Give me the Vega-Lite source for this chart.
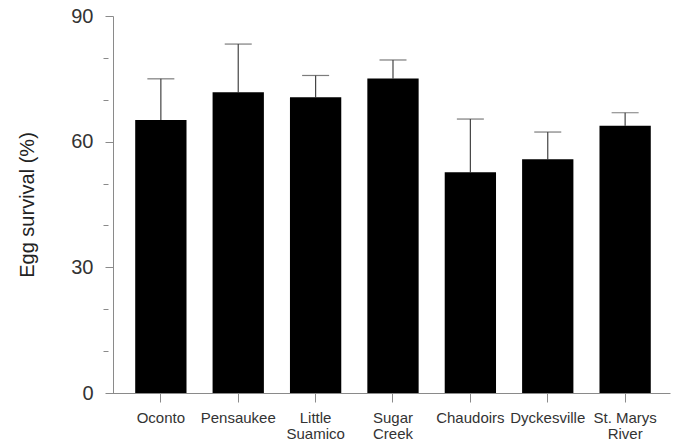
{
  "$schema": "https://vega.github.io/schema/vega-lite/v6.json",
  "autosize": "none",
  "width": 562,
  "height": 377,
  "padding": {"left": 108, "top": 16, "right": 13, "bottom": 49},
  "background": "white",
  "config": {
    "view": {"stroke": null},
    "axis": {"domainColor": "#8a8a8a", "tickColor": "#8a8a8a", "labelColor": "#333333", "titleColor": "#222222", "labelFont": "Liberation Sans", "titleFont": "Liberation Sans", "grid": false}
  },
  "data": {
    "values": [
      {"site": "Oconto", "mean": 65.2, "upper": 75.0},
      {"site": "Pensaukee", "mean": 71.8, "upper": 83.3},
      {"site": "Little Suamico", "mean": 70.6, "upper": 75.8},
      {"site": "Sugar Creek", "mean": 75.1, "upper": 79.5},
      {"site": "Chaudoirs", "mean": 52.7, "upper": 65.4},
      {"site": "Dyckesville", "mean": 55.8, "upper": 62.3},
      {"site": "St. Marys River", "mean": 63.8, "upper": 66.9}
    ]
  },
  "encoding": {
    "x": {
      "field": "site", "type": "nominal", "sort": null,
      "scale": {"paddingInner": 0.337, "paddingOuter": 0.3, "align": 0.586},
      "axis": {
        "title": null, "labelAngle": 0, "labelFontSize": 15, "tickSize": 9, "labelPadding": 8,
        "labelLineHeight": 16,
        "labelExpr": "datum.label === 'Little Suamico' ? ['Little', 'Suamico'] : datum.label === 'Sugar Creek' ? ['Sugar', 'Creek'] : datum.label === 'St. Marys River' ? ['St. Marys', 'River'] : datum.label"
      }
    }
  },
  "layer": [
    {
      "mark": {"type": "rule", "color": "#444444", "strokeWidth": 1.2},
      "encoding": {
        "y": {
          "field": "mean", "type": "quantitative",
          "scale": {"domain": [0, 90], "nice": false},
          "axis": {"orient": "left", "values": [10, 20, 40, 50, 70, 80], "labels": false, "domain": false, "title": null, "tickSize": 5, "minExtent": 0, "maxExtent": 5}
        },
        "y2": {"field": "upper"}
      }
    },
    {
      "mark": {"type": "bar", "color": "#000000"},
      "encoding": {
        "y": {
          "field": "mean", "type": "quantitative",
          "scale": {"domain": [0, 90], "nice": false},
          "axis": {
            "orient": "left", "values": [0, 30, 60, 90], "offset": -5,
            "title": "Egg survival (%)", "titleFontSize": 20, "titleFontWeight": "normal", "titlePadding": 33,
            "labelFontSize": 20, "labelPadding": 12, "tickSize": 8
          }
        }
      }
    },
    {
      "mark": {"type": "tick", "color": "#444444", "thickness": 1.2, "size": 27},
      "encoding": {
        "y": {"field": "upper", "type": "quantitative", "axis": null}
      }
    }
  ],
  "resolve": {"axis": {"y": "independent"}}
}
